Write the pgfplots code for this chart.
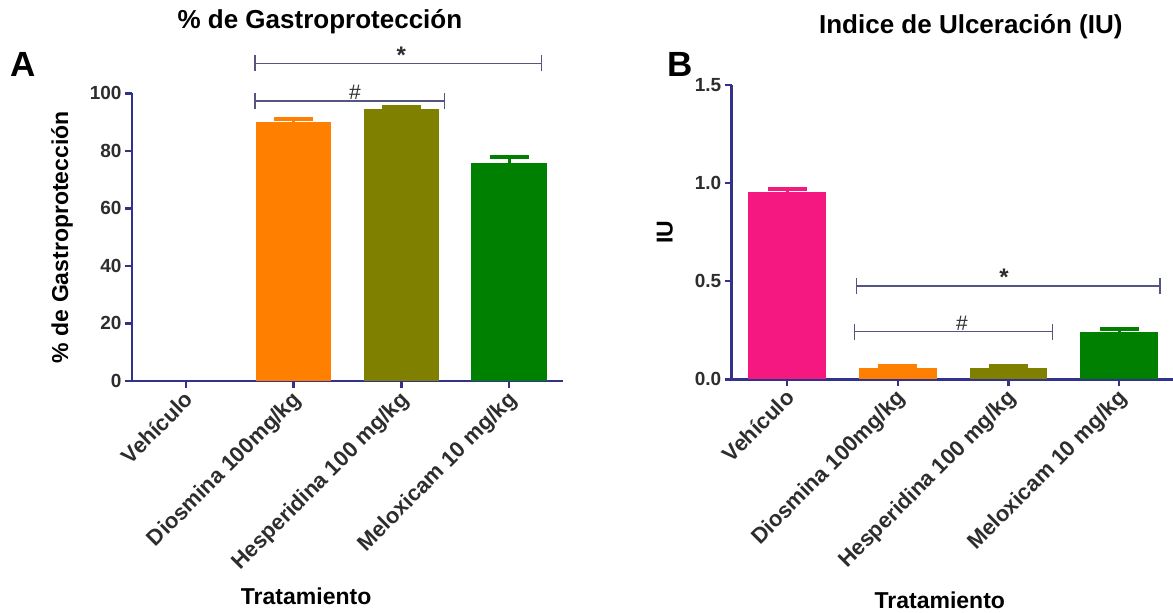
\documentclass[border=0pt]{standalone}
\usepackage{pgfplots}
\pgfplotsset{compat=1.18}
\usepackage{fontspec}
\setmainfont{Liberation Sans}
\definecolor{axc}{RGB}{50,50,140}
\definecolor{brc}{RGB}{85,85,130}
\definecolor{cOr}{RGB}{255,128,0}
\definecolor{cOl}{RGB}{128,128,0}
\definecolor{cGr}{RGB}{0,128,0}
\definecolor{cPk}{RGB}{245,24,128}
\definecolor{tk}{RGB}{45,45,45}
\pgfplotsset{
  base/.style={
    scale only axis, anchor=south west, xmin=-0.5, xmax=3.5, ymin=0,
    axis x line*=bottom, axis y line*=left,
    axis line style={draw=axc, line width=2.5pt, -},
    tick style={draw=axc, line width=2.5pt},
    tick align=outside, major tick length=7pt,
    xtick={0,1,2,3},
    xticklabels={Vehículo, Diosmina 100mg/kg, Hesperidina 100 mg/kg, Meloxicam 10 mg/kg},
    xticklabel style={rotate=45, anchor=north east, inner sep=1pt, text=tk,
      xshift=-2pt, yshift=2pt,
      font=\fontsize{22}{22}\selectfont\bfseries},
    yticklabel style={text=tk, font=\fontsize{19}{19}\selectfont\bfseries},
    /pgf/number format/assume math mode=true,
    ybar, bar width=0.7,
    clip=false,
    title style={font=\fontsize{26}{26}\selectfont\bfseries, anchor=center},
    xlabel style={font=\fontsize{23}{23}\selectfont\bfseries, anchor=center},
    ylabel style={font=\fontsize{23}{23}\selectfont\bfseries, anchor=center},
  },
  bstyle/.style={bar shift=0pt, draw=none, fill=#1,
    error bars/.cd, y dir=plus, y explicit, error mark=|,
    error bar style={#1, line width=3pt},
    error mark options={#1, line width=4pt, mark size=19.5pt}},
}
\begin{document}
\begin{tikzpicture}[x=1pt,y=1pt]
\useasboundingbox (0,0) rectangle (1173,613);
% Panel A
\begin{axis}[base, at={(132pt,232pt)}, width=431pt, height=287.7pt,
  ymax=100, ytick={0,20,40,60,80,100},
  title={\% de Gastroprotección}, title style={at={(rel axis cs:0.436,1.227)}},
  xlabel={Tratamiento}, xlabel style={at={(rel axis cs:0.404,-0.747)}},
  ylabel={\% de Gastroprotección}, ylabel style={at={(rel axis cs:-0.162,0.5)}}]
\addplot[bstyle=cOr] coordinates {(1,90.1) +- (0,1.0)};
\addplot[bstyle=cOl] coordinates {(2,94.4) +- (0,0.9)};
\addplot[bstyle=cGr] coordinates {(3,75.9) +- (0,2.0)};
\draw[brc, line width=1.5pt] (axis cs:0.641,110.4) -- (axis cs:3.30,110.4);
\draw[brc, line width=1.5pt] ([yshift=-8pt]axis cs:0.641,110.4) -- ([yshift=8pt]axis cs:0.641,110.4);
\draw[brc, line width=1.5pt] ([yshift=-8pt]axis cs:3.30,110.4) -- ([yshift=8pt]axis cs:3.30,110.4);
\draw[brc, line width=1.5pt] (axis cs:0.641,97.3) -- (axis cs:2.40,97.3);
\draw[brc, line width=1.5pt] ([yshift=-8pt]axis cs:0.641,97.3) -- ([yshift=8pt]axis cs:0.641,97.3);
\draw[brc, line width=1.5pt] ([yshift=-8pt]axis cs:2.40,97.3) -- ([yshift=8pt]axis cs:2.40,97.3);
\node[text=tk, font=\fontsize{24}{24}\selectfont\bfseries, anchor=south, inner sep=0pt] at (axis cs:2.0,110.4) {*};
\node[text=tk, font=\fontsize{21}{21}\selectfont, anchor=south, inner sep=1pt] at (axis cs:1.57,97.3) {\#};
\end{axis}
% Panel B
\begin{axis}[base, at={(731.7pt,233.7pt)}, width=442.8pt, height=294.3pt,
  ymax=1.5, ytick={0,0.5,1.0,1.5},
  yticklabel style={/pgf/number format/.cd, fixed, fixed zerofill, precision=1},
  title={Indice de Ulceración (IU)}, title style={at={(rel axis cs:0.540,1.177)}},
  xlabel={Tratamiento}, xlabel style={at={(rel axis cs:0.470,-0.75)}},
  ylabel={IU}, ylabel style={at={(rel axis cs:-0.151,0.5)}}]
\addplot[bstyle=cPk] coordinates {(0,0.956) +- (0,0.014)};
\addplot[bstyle=cOr] coordinates {(1,0.058) +- (0,0.008)};
\addplot[bstyle=cOl] coordinates {(2,0.060) +- (0,0.010)};
\addplot[bstyle=cGr] coordinates {(3,0.240) +- (0,0.018)};
\draw[brc, line width=1.5pt] (axis cs:0.627,0.4755) -- (axis cs:3.367,0.4755);
\draw[brc, line width=1.5pt] ([yshift=-8pt]axis cs:0.627,0.4755) -- ([yshift=8pt]axis cs:0.627,0.4755);
\draw[brc, line width=1.5pt] ([yshift=-8pt]axis cs:3.367,0.4755) -- ([yshift=8pt]axis cs:3.367,0.4755);
\draw[brc, line width=1.5pt] (axis cs:0.611,0.2426) -- (axis cs:2.40,0.2426);
\draw[brc, line width=1.5pt] ([yshift=-8pt]axis cs:0.611,0.2426) -- ([yshift=8pt]axis cs:0.611,0.2426);
\draw[brc, line width=1.5pt] ([yshift=-8pt]axis cs:2.40,0.2426) -- ([yshift=8pt]axis cs:2.40,0.2426);
\node[text=tk, font=\fontsize{24}{24}\selectfont\bfseries, anchor=south, inner sep=0pt] at (axis cs:1.96,0.4755) {*};
\node[text=tk, font=\fontsize{21}{21}\selectfont, anchor=south, inner sep=1pt] at (axis cs:1.58,0.2426) {\#};
\end{axis}
\node[font=\fontsize{35}{35}\selectfont\bfseries] at (23,549) {A};
\node[font=\fontsize{35}{35}\selectfont\bfseries] at (680,549) {B};
\end{tikzpicture}
\end{document}
